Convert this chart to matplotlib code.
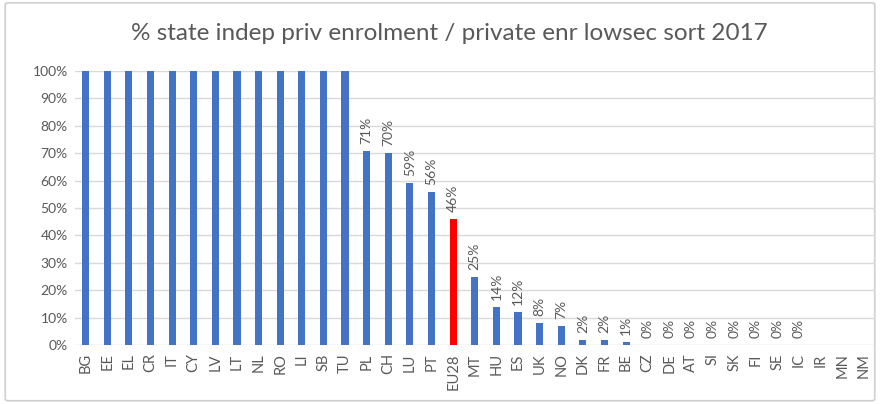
import numpy as np
import matplotlib.pyplot as plt
from matplotlib.patches import FancyBboxPatch

countries = ["BG", "EE", "EL", "CR", "IT", "CY", "LV", "LT", "NL", "RO", "LI", "SB", "TU",
             "PL", "CH", "LU", "PT", "EU28", "MT", "HU", "ES", "UK", "NO", "DK", "FR", "BE",
             "CZ", "DE", "AT", "SI", "SK", "FI", "SE", "IC", "IR", "MN", "NM"]
# share in %, None = no data
values = [100, 100, 100, 100, 100, 100, 100, 100, 100, 100, 100, 100, 100,
          71, 70, 59, 56, 46, 25, 14, 12, 8, 7, 2, 2, 1,
          0, 0, 0, 0, 0, 0, 0, 0, None, None, None]
highlight = "EU28"

plt.rcParams['font.family'] = ['Lato', 'DejaVu Sans']
txt = "#595959"

fig = plt.figure(figsize=(8.8, 4.04), dpi=100)
frame = FancyBboxPatch((0.006, 0.008), 0.988, 0.985, boxstyle="round,pad=0,rounding_size=0.004",
                       transform=fig.transFigure, fc="white", ec="#d0d0d0", lw=1.2, zorder=-5)
fig.patches.append(frame)
ax = fig.add_axes([0.085, 0.146, 0.909, 0.678])
ax.patch.set_alpha(0)

x = np.arange(len(countries))
h = [v / 100 if v is not None else 0 for v in values]
colors = ["#ff0000" if c == highlight else "#4472c4" for c in countries]
ax.bar(x, h, width=0.33, color=colors, zorder=3)

for xi, v in zip(x, values):
    if v is None or v >= 100:
        continue
    ax.annotate(f"{v}%", (xi, v / 100), xytext=(0, 5), textcoords="offset points",
                rotation=90, ha="center", va="bottom", fontsize=10, color=txt)

ax.set_xlim(-0.5, len(countries) - 0.5)
ax.set_ylim(0, 1.0)
ax.set_yticks(np.arange(0, 1.01, 0.1))
ax.set_yticklabels([f"{int(round(t * 100))}%" for t in np.arange(0, 1.01, 0.1)])
ax.set_xticks(x)
ax.set_xticklabels(countries, rotation=90)
ax.tick_params(axis="both", length=0, colors=txt)
ax.tick_params(axis="x", pad=6, labelsize=10.5)
ax.tick_params(axis="y", pad=5, labelsize=10)
ax.yaxis.grid(True, color="#d9d9d9", lw=1.0, zorder=0)
ax.set_axisbelow(True)
for s in ax.spines.values():
    s.set_visible(False)

fig.text(0.511, 0.918, "% state indep priv enrolment / private enr lowsec sort 2017",
         ha="center", va="center", fontsize=17.5, color=txt)

fig.savefig("out.png", dpi=100)
